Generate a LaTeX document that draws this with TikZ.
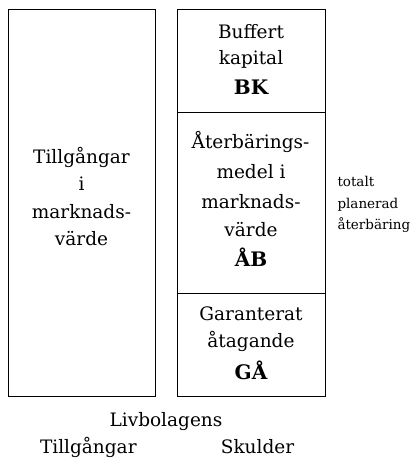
\documentclass[tikz,border=0pt]{standalone}
\usepackage{fontspec}
\setmainfont{DejaVu Serif}
\begin{document}
\begin{tikzpicture}[x=1pt,y=-1pt,
  box/.style={draw=black,line width=0.9pt},
  ln/.style={anchor=base,inner sep=0pt,font=\fontsize{18.5}{22}\selectfont},
  bln/.style={anchor=base,inner sep=0pt,font=\fontsize{20}{24}\selectfont\bfseries},
  side/.style={anchor=base west,inner sep=0pt,font=\fontsize{13.5}{16}\selectfont}]
\useasboundingbox (0,0) rectangle (412,462);
% boxes
\draw[box] (8.5,9) rectangle (155.5,396.5);
\draw[box] (177.5,9) rectangle (325,396.5);
\draw[box] (177.5,112.5) -- (325,112.5);
\draw[box] (177.5,293) -- (325,293);
% left box
\node[ln] (a1) at (81.5,163.3) {Tillgångar};
\node[ln] (a2) at (81.5,190) {i};
\node[ln] (a3) at (81.5,218.3) {marknads-};
\node[ln] (a4) at (81.5,245) {värde};
% top right
\node[ln] (b1) at (251,38.3) {Buffert};
\node[ln] (b2) at (251,65) {kapital};
\node[bln] (b3) at (251,95) {BK};
% middle right
\node[ln] (c1) at (250.5,148.3) {Återbärings-};
\node[ln] (c2) at (251,178.3) {medel i};
\node[ln] (c3) at (251,208) {marknads-};
\node[ln] (c4) at (251,236.7) {värde};
\node[bln] (c5) at (251,266.7) {ÅB};
% bottom right
\node[ln] (d1) at (251,320.7) {Garanterat};
\node[ln] (d2) at (251,347.3) {åtagande};
\node[bln] (d3) at (251,379) {GÅ};
% side
\node[side] (s1) at (337.3,186.7) {totalt};
\node[side] (s2) at (337.3,208) {planerad};
\node[side] (s3) at (337.3,229.5) {återbäring};
% caption
\node[ln] (liv) at (166,426.7) {Livbolagens};
\node[ln] (till) at (88.3,453.3) {Tillgångar};
\node[ln] (sk) at (257.5,453.3) {Skulder};
\end{tikzpicture}
\end{document}
